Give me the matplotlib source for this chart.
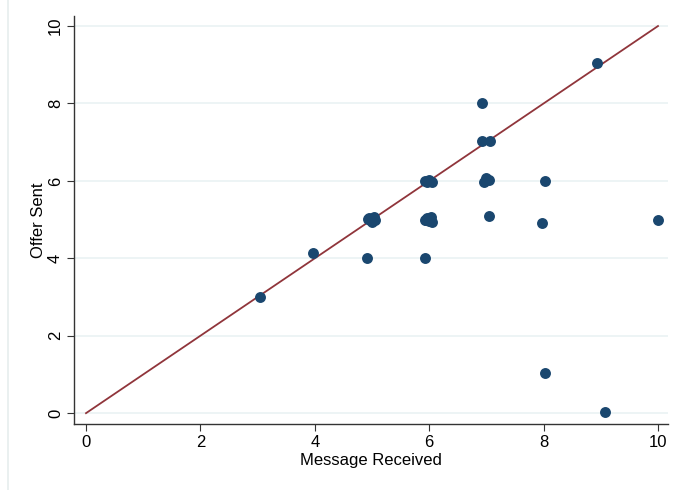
import numpy as np
import matplotlib.pyplot as plt
from matplotlib.lines import Line2D

plt.rcParams['font.family'] = ['Liberation Sans', 'DejaVu Sans']

# jittered (message received, offer sent) pairs
message = [3.05, 3.97, 4.92,
           4.95, 5.0, 5.05, 4.97, 5.03, 4.93,
           5.93,
           5.95, 6.0, 6.03, 5.97, 6.05, 5.92,
           5.93, 6.0, 6.05, 5.97,
           6.93, 6.93, 7.07,
           6.95, 7.0, 7.05,
           7.05, 8.02, 7.97, 10.0, 8.93, 8.03, 9.07]
offer = [3.0, 4.13, 4.0,
         5.05, 4.95, 5.0, 4.98, 5.07, 5.02,
         4.0,
         5.0, 4.97, 5.07, 5.05, 4.95, 4.98,
         6.0, 6.02, 5.97, 5.98,
         8.02, 7.03, 7.02,
         5.97, 6.08, 6.02,
         5.1, 6.0, 4.92, 5.0, 9.05, 1.05, 0.02]

fig = plt.figure(figsize=(6.77, 4.9), dpi=100)
ax = fig.add_axes([0.1093, 0.1347, 0.877, 0.8327])

ax.scatter(message, offer, s=62, color='#1a476f', zorder=3, linewidths=0)
ax.plot([0, 10], [0, 10], color='#90353b', lw=1.3, zorder=2)

ax.set_xlim(-0.21, 10.17)
ax.set_ylim(-0.28, 10.26)
ax.set_xticks(np.arange(0, 11, 2))
ax.set_yticks(np.arange(0, 11, 2))
ax.yaxis.grid(True, color='#eaf2f3', lw=1.2)
ax.set_axisbelow(True)
for s in ['top', 'right']:
    ax.spines[s].set_visible(False)
for s in ['left', 'bottom']:
    ax.spines[s].set_color('#333333')
    ax.spines[s].set_linewidth(1.0)
ax.tick_params(direction='out', length=5, color='#333333', labelsize=12, pad=3)
plt.setp(ax.get_yticklabels(), rotation=90, va='center')
ax.set_xlabel('Message Received', fontsize=12, labelpad=2)
ax.set_ylabel('Offer Sent', fontsize=12, labelpad=1)

# faint frame line on the left edge
fig.add_artist(Line2D([8 / 677, 8 / 677], [0, 1], color='#e6eeee', lw=1.2))

fig.savefig('out.png', dpi=100)
